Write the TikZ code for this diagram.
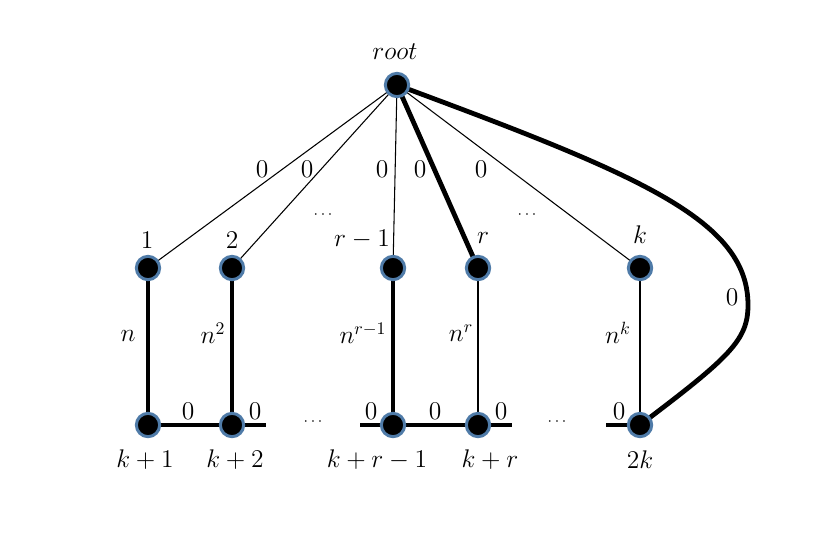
\documentclass[tikz,border=0pt]{standalone}
\usetikzlibrary{backgrounds}
\definecolor{ringblue}{HTML}{4F7BA8}
\begin{document}
\begin{tikzpicture}[x=0.75pt,y=-0.75pt,
  vtx/.style={circle,fill=black,draw=ringblue,line width=2.25pt,minimum size=17.5pt,inner sep=0pt},
  thin/.style={line width=0.8pt},
  heavy/.style={line width=3.6pt},
  lbl/.style={font=\Large,scale=1.33,inner sep=0pt},
  dots/.style={font=\large,inner sep=0pt}]
\useasboundingbox (0,0) rectangle (830,554);
% nodes
\node[vtx] (root) at (397,85) {};
\node[vtx] (a1) at (148,268) {};
\node[vtx] (a2) at (232,268) {};
\node[vtx] (ar1) at (393,268) {};
\node[vtx] (ar) at (478,268) {};
\node[vtx] (ak) at (640,268) {};
\node[vtx] (b1) at (148,425) {};
\node[vtx] (b2) at (232,425) {};
\node[vtx] (br1) at (393,425) {};
\node[vtx] (br) at (478,425) {};
\node[vtx] (bk) at (640,425) {};
\coordinate (s2) at (266,425);
\coordinate (sr1) at (360,425);
\coordinate (sr) at (512,425);
\coordinate (sk) at (606,425);
\coordinate (bend) at (748,305);
\begin{scope}[on background layer]
\draw[thin] (root.center) -- (a1.center);
\draw[thin] (root.center) -- (a2.center);
\draw[thin] (root.center) -- (ar1.center);
\draw[heavy] (root.center) -- (ar.center);
\draw[thin] (root.center) -- (ak.center);
\draw[heavy] (root.center) .. controls (640,175) and (748,220) .. (bend)
  .. controls (748,340) and (730,357) .. (bk.center);
\draw[heavy] (a1.center) -- (b1.center);
\draw[heavy] (a2.center) -- (b2.center);
\draw[heavy] (ar1.center) -- (br1.center);
\draw[thin] (ar.center) -- (br.center);
\draw[thin] (ak.center) -- (bk.center);
\draw[heavy] (b1.center) -- (b2.center) -- (s2);
\draw[heavy] (sr1) -- (br1.center) -- (br.center) -- (sr);
\draw[heavy] (sk) -- (bk.center);
\end{scope}
% labels
\node[lbl] (troot) at (395,52) {$root$};
\node[lbl] (e1) at (262,169) {$0$};
\node[lbl] (e2) at (307,169) {$0$};
\node[lbl] (e3) at (382,169) {$0$};
\node[lbl] (e4) at (420,169) {$0$};
\node[lbl] (e5) at (481,169) {$0$};
\node[lbl] (e6) at (732,297) {$0$};
\node[dots] (d1) at (323,215) {$\cdots$};
\node[dots] (d2) at (527,215) {$\cdots$};
\node[lbl] (t1) at (147,240) {$1$};
\node[lbl] (t2) at (232,240) {$2$};
\node[lbl] (tr1) at (362,239) {$r-1$};
\node[lbl] (tr) at (483,238) {$r$};
\node[lbl] (tk) at (640,235) {$k$};
\node[lbl] (w1) at (128,336) {$n$};
\node[lbl] (w2) at (213,333) {$n^2$};
\node[lbl] (w3) at (363,333) {$n^{r-1}$};
\node[lbl] (w4) at (461,333) {$n^r$};
\node[lbl] (w5) at (618,333) {$n^k$};
\node[lbl] (h1) at (188,411) {$0$};
\node[lbl] (h2) at (255,411) {$0$};
\node[lbl] (h3) at (371,411) {$0$};
\node[lbl] (h4) at (435,411) {$0$};
\node[lbl] (h5) at (501,411) {$0$};
\node[lbl] (h6) at (619,411) {$0$};
\node[dots] (d3) at (313,422) {$\cdots$};
\node[dots] (d4) at (557,422) {$\cdots$};
\node[lbl] (u1) at (145,460) {$k+1$};
\node[lbl] (u2) at (235,460) {$k+2$};
\node[lbl] (u3) at (377,460) {$k+r-1$};
\node[lbl] (u4) at (490,460) {$k+r$};
\node[lbl] (u5) at (640,460) {$2k$};
\end{tikzpicture}
\end{document}
